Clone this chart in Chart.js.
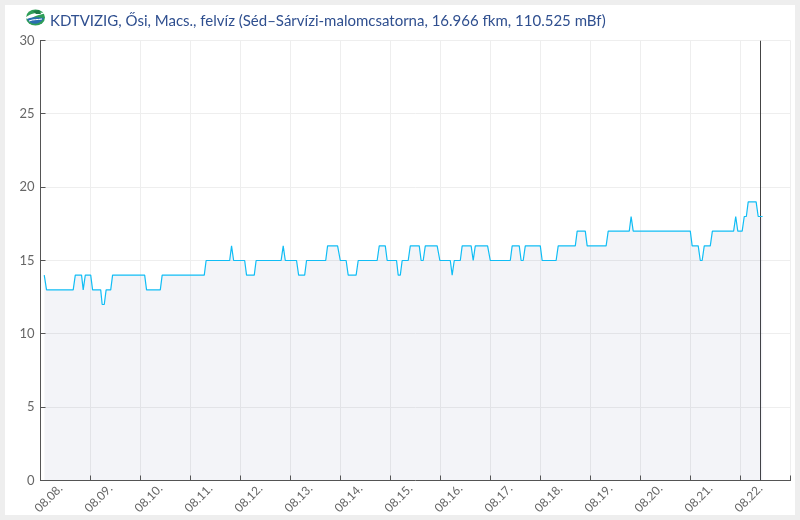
<!DOCTYPE html>
<html>
<head>
<meta charset="utf-8">
<style>
  html, body { margin: 0; padding: 0; background: #eeeeee; }
  #card { position: absolute; left: 5px; top: 5px; width: 790px; height: 510px; background: #fff; }
  #title { position: absolute; left: 45px; top: 6px; font: 15px Lato, sans-serif; color: #2f4f8f; white-space: nowrap; }
  #logo { position: absolute; left: 20px; top: 4px; }
  canvas { position: absolute; left: 0; top: 0; }
</style>
</head>
<body>
<div id="card">
  <canvas id="chart" width="790" height="510"></canvas>
  <svg id="logo" width="21" height="17" viewBox="0 0 21 17">
    <ellipse cx="10.5" cy="8.5" rx="9.5" ry="8" fill="#2f9e57"/>
    <path d="M0 9 C5 4 12 3 21 4 C14 6 8 7 5 11 Z" fill="#ffffff"/>
    <path d="M2 10 C6 8 12 8 19 9 C15 16 6 17 2 10 Z" fill="#2a6db0"/>
    <path d="M4 12 C9 10 12 11 17 10" stroke="#ffffff" stroke-width="1" fill="none"/>
    <path d="M8 2 L14 1 L16 5 L11 5 Z" fill="#1d7a45"/>
  </svg>
  <div id="title">KDTVIZIG, Ősi, Macs., felvíz (Séd–Sárvízi-malomcsatorna, 16.966 fkm, 110.525 mBf)</div>
</div>
<script src="https://cdn.jsdelivr.net/npm/chart.js@4"></script>
<script>
// hours since 08.08. 00:00, water level at each break of the step line
const hours = [1.8, 2.9, 15.7, 16.7, 19.7, 20.5, 21.5, 24.1, 25.0, 28.9, 29.6, 30.6, 31.5, 33.7, 34.6,
  50.0, 50.9, 57.5, 58.4, 78.6, 79.5, 90.8, 91.7, 92.7, 98.0, 98.9, 102.6, 103.5, 115.5, 116.5, 117.5,
  122.9, 123.9, 126.8, 127.7, 136.9, 137.8, 142.6, 143.9, 146.7, 147.7, 151.5, 152.5, 161.6, 162.6,
  165.5, 166.4, 170.9, 171.7, 172.7, 173.6, 176.5, 177.5, 181.8, 182.7, 183.7, 184.7, 190.4, 191.7,
  196.7, 197.6, 198.6, 201.5, 202.4, 206.7, 207.7, 208.7, 214.6, 215.9, 225.5, 226.4, 229.8, 230.7,
  231.7, 232.7, 239.9, 240.8, 247.5, 248.5, 256.7, 257.6, 261.5, 262.4, 271.5, 272.5, 282.6, 283.5,
  284.5, 311.9, 312.8, 315.7, 316.7, 317.6, 318.6, 321.5, 322.5, 332.7, 333.7, 334.7, 336.8, 337.8,
  338.8, 339.7, 343.5, 344.5, 346.6];
const levels = [14, 13, 13, 14, 14, 13, 14, 14, 13, 13, 12, 12, 13, 13, 14,
  14, 13, 13, 14, 14, 15, 15, 16, 15, 15, 14, 14, 15, 15, 16, 15,
  15, 14, 14, 15, 15, 16, 16, 15, 15, 14, 14, 15, 15, 16,
  16, 15, 15, 14, 14, 15, 15, 16, 16, 15, 15, 16, 16, 15,
  15, 14, 15, 15, 16, 16, 15, 16, 16, 15, 15, 16, 16, 15,
  15, 16, 16, 15, 15, 16, 16, 17, 17, 16, 16, 17, 17, 18,
  17, 17, 16, 16, 15, 15, 16, 16, 17, 17, 18, 17, 17, 18,
  18, 19, 19, 18, 18];
const dayLabels = ['08.08.', '08.09.', '08.10.', '08.11.', '08.12.', '08.13.', '08.14.', '08.15.',
  '08.16.', '08.17.', '08.18.', '08.19.', '08.20.', '08.21.', '08.22.'];
const nowHour = 345.6;

// short tick marks pointing into the plot
const innerTicks = {
  id: 'innerTicks',
  afterDatasetsDraw(chart) {
    const { ctx, scales: { x, y }, chartArea: a } = chart;
    ctx.save();
    ctx.strokeStyle = '#555';
    ctx.lineWidth = 1;
    ctx.beginPath();
    x.ticks.forEach(t => {
      const px = Math.floor(x.getPixelForValue(t.value)) + 0.5;
      ctx.moveTo(px, a.bottom);
      ctx.lineTo(px, a.bottom - 5);
    });
    y.ticks.forEach(t => {
      const py = Math.floor(y.getPixelForValue(t.value)) + 0.5;
      ctx.moveTo(a.left, py);
      ctx.lineTo(a.left + 5, py);
    });
    ctx.stroke();
    ctx.restore();
  }
};

new Chart(document.getElementById('chart'), {
  type: 'line',
  data: {
    datasets: [{
      data: hours.map((h, i) => ({ x: h, y: levels[i] })),
      borderColor: '#10bdf5',
      borderWidth: 1.2,
      borderJoinStyle: 'bevel',
      backgroundColor: 'rgba(20, 40, 120, 0.05)',
      fill: 'origin',
      pointRadius: 0,
      tension: 0,
      order: 1
    }, {
      data: [{ x: nowHour, y: 0 }, { x: nowHour, y: 30 }],
      borderColor: '#444',
      borderWidth: 1,
      pointRadius: 0,
      order: 2
    }]
  },
  options: {
    responsive: false,
    animation: false,
    layout: { padding: { top: 35.5, right: 4.5, left: 0, bottom: 0 } },
    plugins: { legend: { display: false }, title: { display: false }, tooltip: { enabled: false } },
    scales: {
      x: {
        type: 'linear',
        min: 0,
        max: 360,
        afterFit(s) { s.height = 34.5; s.paddingLeft = 0; s.paddingRight = 0; },
        grid: { color: '#eeeeee', drawTicks: false },
        border: { color: '#555' },
        ticks: {
          stepSize: 24,
          autoSkip: false,
          minRotation: 45,
          maxRotation: 45,
          padding: 1,
          labelOffset: 20,
          color: '#666',
          font: { family: 'Lato', size: 12 },
          callback: v => dayLabels[v / 24] || ''
        }
      },
      y: {
        min: 0,
        max: 30,
        afterFit(s) { s.width = 35.5; },
        grid: { color: '#eeeeee', drawTicks: false },
        border: { color: '#555' },
        ticks: {
          stepSize: 5,
          padding: 6,
          color: '#666',
          font: { family: 'Lato', size: 13 }
        }
      }
    }
  },
  plugins: [innerTicks]
});
</script>
</body>
</html>
